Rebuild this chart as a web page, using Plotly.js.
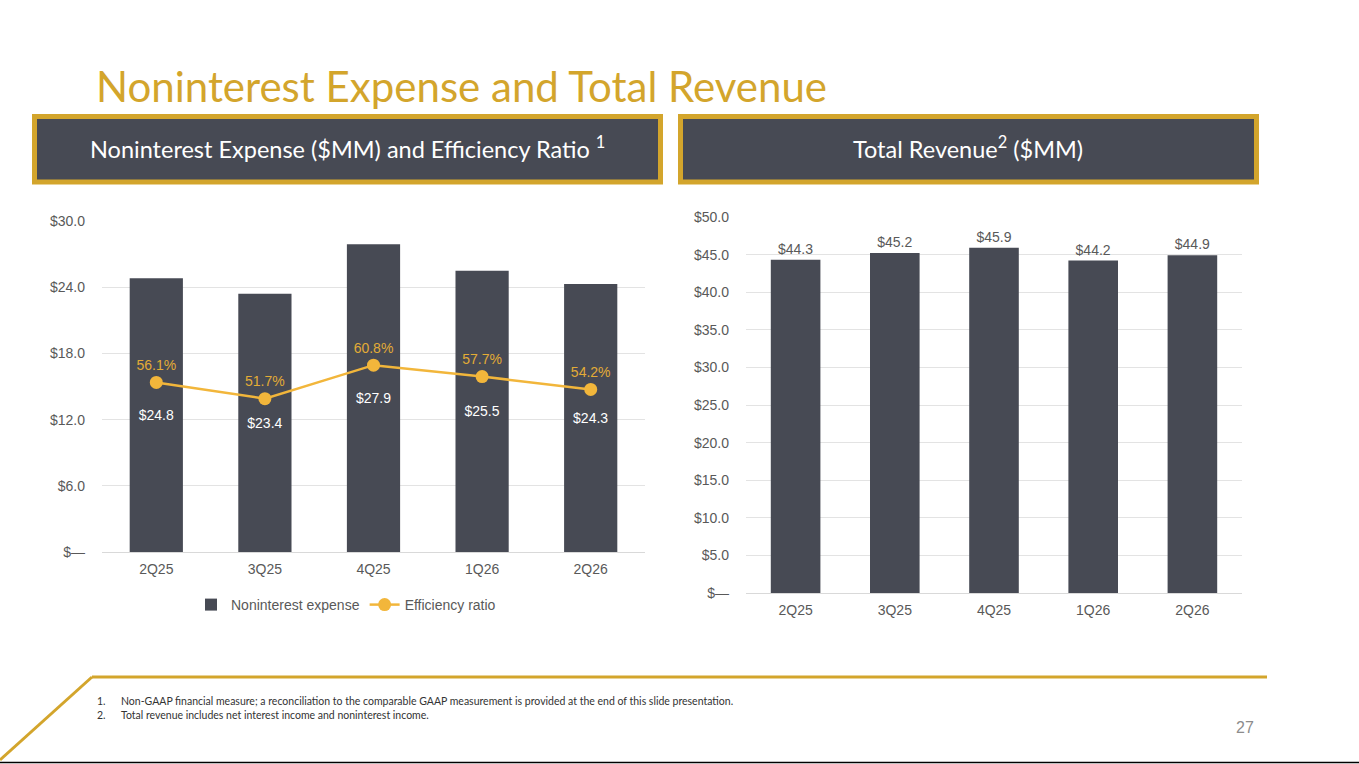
<!DOCTYPE html>
<html>
<head>
<meta charset="utf-8">
<script src="https://cdn.plot.ly/plotly-3.0.1.min.js"></script>
<style>
  html, body { margin: 0; padding: 0; background: #fff; }
  #myDiv { width: 1359px; height: 764px; }
</style>
</head>
<body>
<div id="myDiv"></div>
<script>
// quarters shown on both charts
var quarters = ['2Q25', '3Q25', '4Q25', '1Q26', '2Q26'];

// left chart: noninterest expense ($MM) and efficiency ratio (%)
var nonintExpense = [24.8, 23.4, 27.9, 25.5, 24.3];
var efficiencyRatio = [56.1, 51.7, 60.8, 57.7, 54.2];

// right chart: total revenue ($MM)
var totalRevenue = [44.3, 45.2, 45.9, 44.2, 44.9];

// tick labels
var expTickVals = [0, 6, 12, 18, 24, 30];
var expTickText = ['$\u2014', '$6.0', '$12.0', '$18.0', '$24.0', '$30.0'];
var revTickVals = [0, 5, 10, 15, 20, 25, 30, 35, 40, 45, 50];
var revTickText = ['$\u2014', '$5.0', '$10.0', '$15.0', '$20.0', '$25.0', '$30.0', '$35.0', '$40.0', '$45.0', '$50.0'];

var W = 1359, H = 764;
function px(x) { return x / W; }
function py(y) { return 1 - y / H; }

var gold = '#D3A52C';
var dark = '#474A54';
var grey = '#595959';
var lineGold = '#F2B63B';

var expenseBars = {
  x: quarters,
  y: nonintExpense,
  type: 'bar',
  name: 'Noninterest expense',
  marker: { color: dark },
  width: 0.49,
  texttemplate: '$%{y:.1f}',
  textposition: 'inside',
  insidetextanchor: 'middle',
  textfont: { family: 'Arial, Liberation Sans', size: 14, color: '#ffffff' },
  hoverinfo: 'skip',
  xaxis: 'x',
  yaxis: 'y'
};

var effLine = {
  x: quarters,
  y: efficiencyRatio,
  type: 'scatter',
  mode: 'lines+markers+text',
  name: 'Efficiency ratio',
  line: { color: lineGold, width: 2.5 },
  marker: { color: lineGold, size: 13 },
  text: efficiencyRatio.map(function (v) { return v.toFixed(1) + '%'; }),
  textposition: 'top center',
  textfont: { family: 'Arial, Liberation Sans', size: 14, color: '#E3AC36' },
  hoverinfo: 'skip',
  xaxis: 'x',
  yaxis: 'y3'
};

var revenueBars = {
  x: quarters,
  y: totalRevenue,
  type: 'bar',
  name: 'Total revenue',
  showlegend: false,
  marker: { color: dark },
  width: 0.5,
  texttemplate: '$%{y:.1f}',
  textposition: 'outside',
  cliponaxis: false,
  textfont: { family: 'Arial, Liberation Sans', size: 14, color: grey },
  hoverinfo: 'skip',
  xaxis: 'x2',
  yaxis: 'y2'
};

var data = [expenseBars, effLine, revenueBars];

var tickFont = { family: 'Arial, Liberation Sans', size: 14, color: grey };

var layout = {
  width: W,
  height: H,
  margin: { l: 0, r: 0, t: 0, b: 0 },
  paper_bgcolor: '#ffffff',
  plot_bgcolor: 'rgba(0,0,0,0)',
  showlegend: true,
  legend: {
    orientation: 'h',
    x: px(346), xanchor: 'center',
    y: py(605), yanchor: 'middle',
    font: { family: 'Arial, Liberation Sans', size: 14, color: grey },
    itemwidth: 30,
    traceorder: 'normal'
  },
  xaxis: {
    domain: [px(102), px(645)],
    anchor: 'y',
    showline: false,
    ticks: '',
    tickfont: tickFont,
    ticklabelstandoff: 7
  },
  yaxis: {
    domain: [py(552), py(221)],
    anchor: 'x',
    range: [0, 30],
    tickvals: expTickVals,
    ticktext: expTickText,
    tickfont: tickFont,
    gridcolor: '#E3E3E3',
    zeroline: true,
    zerolinecolor: '#D9D9D9',
    zerolinewidth: 1,
    ticklabelstandoff: 16
  },
  yaxis3: {
    overlaying: 'y',
    anchor: 'x',
    range: [10, 100],
    visible: false
  },
  xaxis2: {
    domain: [px(746), px(1242)],
    anchor: 'y2',
    showline: false,
    ticks: '',
    tickfont: tickFont,
    ticklabelstandoff: 7
  },
  yaxis2: {
    domain: [py(593), py(217)],
    anchor: 'x2',
    range: [0, 50],
    tickvals: revTickVals,
    ticktext: revTickText,
    tickfont: tickFont,
    gridcolor: '#E3E3E3',
    zeroline: true,
    zerolinecolor: '#D9D9D9',
    zerolinewidth: 1,
    ticklabelstandoff: 16
  },
  shapes: [
    // header boxes
    { type: 'rect', xref: 'paper', yref: 'paper', x0: px(34.5), x1: px(660.5), y0: py(182), y1: py(116.5),
      fillcolor: dark, line: { color: gold, width: 5 } },
    { type: 'rect', xref: 'paper', yref: 'paper', x0: px(680.5), x1: px(1256.5), y0: py(182), y1: py(116.5),
      fillcolor: dark, line: { color: gold, width: 5 } },
    // footer gold rule and diagonal
    { type: 'line', xref: 'paper', yref: 'paper', x0: px(92), x1: px(1267), y0: py(677), y1: py(677),
      line: { color: gold, width: 3 } },
    { type: 'line', xref: 'paper', yref: 'paper', x0: px(92), x1: px(0), y0: py(677), y1: py(760),
      line: { color: gold, width: 3 } },
    // bottom black rule
    { type: 'line', xref: 'paper', yref: 'paper', x0: 0, x1: 1, y0: py(762.5), y1: py(762.5),
      line: { color: '#000000', width: 1.5 } }
  ],
  annotations: [
    { text: 'Noninterest Expense and Total Revenue', xref: 'paper', yref: 'paper',
      x: px(94), y: py(86), xanchor: 'left', yanchor: 'middle', showarrow: false,
      font: { family: 'Lato, Open Sans', size: 42, color: gold } },
    { text: 'Noninterest Expense ($MM) and Efficiency Ratio <sup>1</sup>', xref: 'paper', yref: 'paper',
      x: px(348), y: py(147), xanchor: 'center', yanchor: 'middle', showarrow: false,
      font: { family: 'Lato, Open Sans', size: 23.5, color: '#ffffff' } },
    { text: 'Total Revenue<sup>2</sup> ($MM)', xref: 'paper', yref: 'paper',
      x: px(968), y: py(147), xanchor: 'center', yanchor: 'middle', showarrow: false,
      font: { family: 'Lato, Open Sans', size: 23.5, color: '#ffffff' } },
    { text: '1.', xref: 'paper', yref: 'paper', x: px(95), y: py(701), xanchor: 'left', yanchor: 'middle',
      showarrow: false, font: { family: 'Lato, Open Sans', size: 10.5, color: '#333333' } },
    { text: 'Non-GAAP financial measure; a reconciliation to the comparable GAAP measurement is provided at the end of this slide presentation.',
      xref: 'paper', yref: 'paper', x: px(119), y: py(701), xanchor: 'left', yanchor: 'middle',
      showarrow: false, font: { family: 'Lato, Open Sans', size: 10.5, color: '#333333' } },
    { text: '2.', xref: 'paper', yref: 'paper', x: px(95), y: py(715), xanchor: 'left', yanchor: 'middle',
      showarrow: false, font: { family: 'Lato, Open Sans', size: 10.5, color: '#333333' } },
    { text: 'Total revenue includes net interest income and noninterest income.',
      xref: 'paper', yref: 'paper', x: px(119), y: py(715), xanchor: 'left', yanchor: 'middle',
      showarrow: false, font: { family: 'Lato, Open Sans', size: 10.5, color: '#333333' } },
    { text: '27', xref: 'paper', yref: 'paper', x: px(1256), y: py(727), xanchor: 'right', yanchor: 'middle',
      showarrow: false, font: { family: 'Arial, Liberation Sans', size: 16, color: '#8C8C8C' } }
  ]
};

Plotly.newPlot('myDiv', data, layout, { staticPlot: true, displayModeBar: false });
</script>
</body>
</html>
